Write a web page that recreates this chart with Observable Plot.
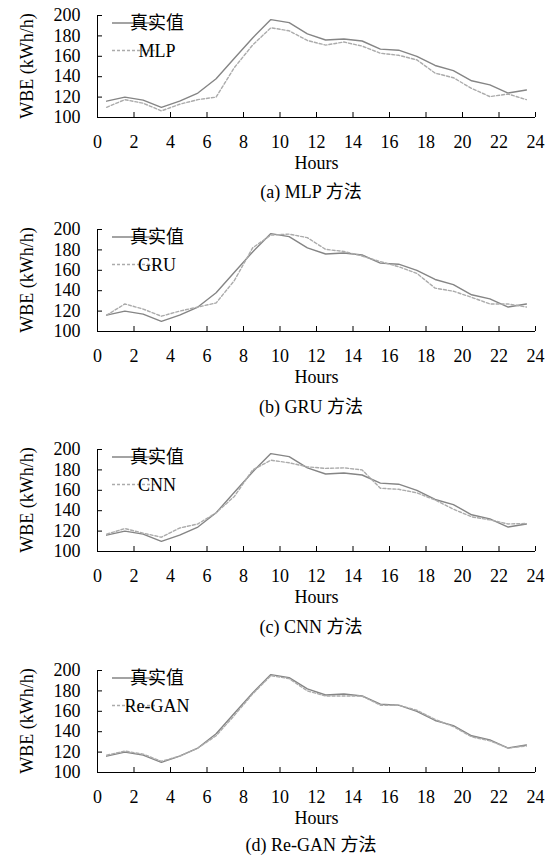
<!DOCTYPE html>
<html><head><meta charset="utf-8">
<script src="https://cdn.jsdelivr.net/npm/d3@7"></script>
<script src="https://cdn.jsdelivr.net/npm/@observablehq/plot@0.6"></script>
<style>
body{margin:0;background:#fff;}
#root{position:relative;width:554px;height:855px;overflow:hidden;font-family:"Liberation Serif","Times New Roman","Noto Sans CJK SC",serif;}
#root svg, #root svg text{font-family:"Liberation Serif","Times New Roman","Noto Sans CJK SC",serif !important;}
.panel{position:absolute;left:0;width:554px;height:200px;}
.cap{position:absolute;left:111px;width:400px;text-align:center;font-size:18px;line-height:20px;color:#000;white-space:nowrap;}
</style></head><body><div id="root"></div>
<script>
const hours = [0.5,1.5,2.5,3.5,4.5,5.5,6.5,7.5,8.5,9.5,10.5,11.5,12.5,13.5,14.5,15.5,16.5,17.5,18.5,19.5,20.5,21.5,22.5,23.5];
const actual = [116,120,117,110,116,124,138,158,178,196,193,182,176,177,175,167,166,160,151,146,136,132,124,127];
const mlp    = [110,117.5,114,106.5,113,117.5,120,149,171,188,185,175.5,171,174,170,163,161,156.5,143.5,139,128.5,120.5,123,117.5];
const gru    = [116,127,122,115,120,124,128,150,182,194.5,195.5,192,180.5,178.5,174,168.5,163.5,157,142.5,139.5,133.5,127,127,124];
const cnn    = [117,122.5,118,114,123,127,138,154,180,189.5,187,183,181.5,182,180,162,161,157.5,150.5,141.5,134,131,127,127.5];
const regan  = [117,121,118,111,116,124,136,156,177,195,192,180,175,175,175,166,166,161,152,145,135,131,124,126];
const realName = "真实值";
const models = ["MLP","GRU","CNN","Re-GAN"];
const modelValues = [mlp, gru, cnn, regan];
const captions = ["(a) MLP 方法","(b) GRU 方法","(c) CNN 方法","(d) Re-GAN 方法"];
const xTicks = [0,2,4,6,8,10,12,14,16,18,20,22,24];
const yTicks = [100,120,140,160,180,200];
const xLabel = "Hours";
const yLabel = "WBE (kWh/h)";

const panelTops = [0,214,434,655];
const capCenters = [192,407,627,845];
const FONT = '"Liberation Serif","Times New Roman","Noto Sans CJK SC",serif';
const solidColor = "#858585";
const dashColor = "#ababab";
const root = document.getElementById("root");

models.forEach((m, k) => {
  const realRows = hours.map((h,i) => ({h, v: actual[i]}));
  const modelRows = hours.map((h,i) => ({h, v: modelValues[k][i]}));
  const plot = Plot.plot({
    width: 554, height: 177,
    marginTop: 15, marginBottom: 60, marginLeft: 97, marginRight: 19,
    style: {fontFamily: FONT, fontSize: "18px", color: "#000", background: "transparent", overflow: "visible"},
    x: {domain: [0,24], label: null},
    y: {domain: [100,200], label: null},
    marks: [
      Plot.line(realRows, {x: "h", y: "v", stroke: solidColor, strokeWidth: 1.4}),
      Plot.line(modelRows, {x: "h", y: "v", stroke: dashColor, strokeWidth: 1.4, strokeDasharray: "3,2"}),
      Plot.ruleX([0], {stroke: "#000", strokeWidth: 1}),
      Plot.ruleY([100], {stroke: "#000", strokeWidth: 1}),
      Plot.axisX({ticks: xTicks, tickSize: -5, tickPadding: 23, tickFormat: d => String(d), label: null, stroke: "#000", fill: "#000", fontSize: 18, fontFamily: FONT}),
      Plot.axisY({ticks: yTicks, tickSize: -5, tickPadding: 22, tickFormat: d => String(d), label: null, stroke: "#000", fill: "#000", fontSize: 18, fontFamily: FONT}),
      Plot.text([xLabel], {text: d => d, frameAnchor: "bottom", dy: 46, fontSize: 18, fontFamily: FONT, fill: "#000", lineAnchor: "middle"})
    ]
  });
  const div = document.createElement("div");
  div.className = "panel";
  div.style.top = panelTops[k] + "px";
  div.appendChild(plot);
  const svg = d3.select(plot);
  // y axis title
  svg.append("text")
    .attr("transform", "translate(27,66) rotate(-90)")
    .attr("text-anchor", "middle").attr("dy", "0.35em")
    .attr("fill", "#000").style("font-size", "18px").style("font-family", FONT)
    .text(yLabel);
  // legend
  const lg = svg.append("g").attr("class","legend").style("font-family", FONT).style("font-size","18px");
  const entries = [{name: realName, color: solidColor, dash: null, y: 23}, {name: m, color: dashColor, dash: "3,2", y: 50.5}];
  entries.forEach(e => {
    lg.append("line").attr("x1",112).attr("x2",155).attr("y1",e.y).attr("y2",e.y)
      .attr("stroke",e.color).attr("stroke-width",1.4).attr("stroke-dasharray",e.dash);
    lg.append("text").attr("x",157).attr("y",e.y).attr("dy","0.35em").attr("fill","#000").text(e.name);
  });
  const cap = document.createElement("div");
  cap.className = "cap";
  cap.style.top = (capCenters[k] - panelTops[k] - 10) + "px";
  cap.textContent = captions[k];
  div.appendChild(cap);
  root.appendChild(div);
});
</script>
</body></html>
